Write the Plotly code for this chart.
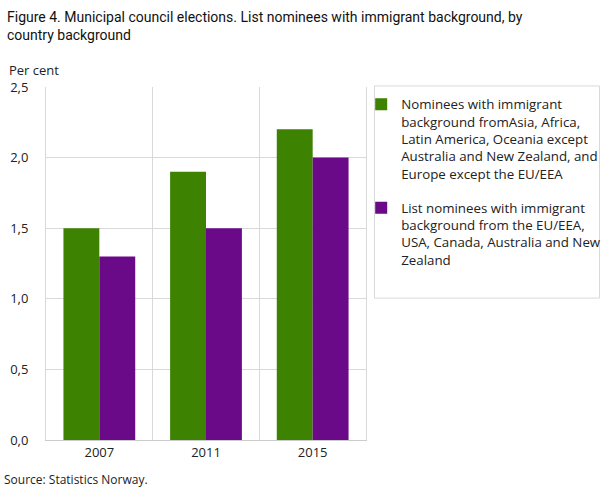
import plotly.graph_objects as go

years = ["2007", "2011", "2015"]
outside_eu = [1.5, 1.9, 2.2]
eu_eea = [1.3, 1.5, 2.0]

series_names = [
    "Nominees with immigrant<br>background fromAsia, Africa,<br>Latin America, Oceania except<br>"
    "Australia and New Zealand, and<br>Europe except the EU/EEA",
    "List nominees with immigrant<br>background from the EU/EEA,<br>USA, Canada, Australia and New<br>Zealand",
]
colors = ["#3d8200", "#6a0a89"]

title_text = (
    "Figure 4. Municipal council elections. List nominees with immigrant background, by"
    "<br>country background"
)

GRID = "#d9d9d9"

fig = go.Figure()
for i, (name, values, color) in enumerate(zip(series_names, [outside_eu, eu_eea], colors)):
    fig.add_trace(
        go.Bar(
            x=years,
            y=values,
            name=name,
            legendgroup=f"g{i}",
            marker=dict(color=color, line=dict(width=0)),
        )
    )

fig.update_layout(
    width=609,
    height=489,
    margin=dict(l=46, r=243, t=87, b=49, autoexpand=False),
    paper_bgcolor="white",
    plot_bgcolor="white",
    separators=", ",
    barmode="group",
    bargap=0.327,
    bargroupgap=0,
    font=dict(family="Open Sans", size=13, color="#222"),
    legend=dict(
        x=0.985,
        y=0.994,
        xanchor="left",
        yanchor="top",
        valign="top",
        bgcolor="rgba(0,0,0,0)",
        borderwidth=0,
        tracegroupgap=14,
        itemwidth=30,
        font=dict(family="Open Sans", size=13.3, color="#222"),
    ),
    showlegend=True,
)

fig.update_xaxes(
    type="category",
    tickson="boundaries",
    showgrid=True,
    gridcolor=GRID,
    gridwidth=1,
    showline=True,
    linecolor="#cccccc",
    ticks="",
    tickfont=dict(size=13, color="#222"),
)
fig.update_yaxes(
    range=[0, 2.5],
    dtick=0.5,
    tickformat=".1f",
    showgrid=True,
    gridcolor=GRID,
    gridwidth=1,
    zeroline=False,
    showline=True,
    mirror=True,
    linecolor=GRID,
    ticks="",
    ticklabelstandoff=14,
    tickfont=dict(size=13, color="#222"),
)

# legend frame
fig.add_shape(
    type="rect",
    xref="paper",
    yref="paper",
    x0=1.0266,
    x1=1.7297,
    y0=0.402,
    y1=1.003,
    line=dict(color=GRID, width=1),
    fillcolor="rgba(0,0,0,0)",
)

# title
fig.add_annotation(
    text=title_text,
    xref="paper",
    yref="paper",
    x=-0.128,
    y=1.226,
    xanchor="left",
    yanchor="top",
    align="left",
    showarrow=False,
    font=dict(family="Roboto", size=14, color="#111"),
)
fig.add_annotation(
    text="Per cent",
    xref="paper",
    yref="paper",
    x=-0.122,
    y=1.048,
    xanchor="left",
    yanchor="middle",
    showarrow=False,
    font=dict(size=13, color="#222"),
)
fig.add_annotation(
    text="Source: Statistics Norway.",
    xref="paper",
    yref="paper",
    x=-0.1375,
    y=-0.113,
    xanchor="left",
    yanchor="middle",
    showarrow=False,
    font=dict(size=12, color="#222"),
)

fig.write_html(
    "out.html",
    config={"displayModeBar": False},
    post_script="document.body.style.margin = '0';",
)
